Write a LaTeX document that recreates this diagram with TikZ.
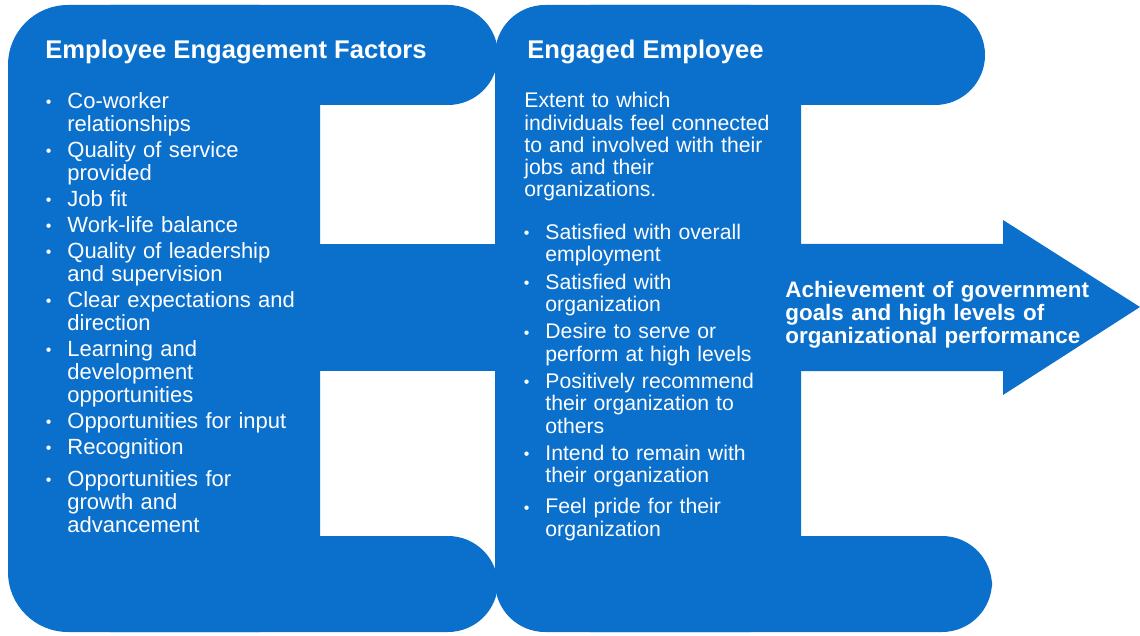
\documentclass[tikz,border=0pt]{standalone}
\usepackage{fontspec}
\setmainfont{Liberation Sans}
\usepackage{enumitem}
\usepackage{tikz}
\definecolor{engblue}{RGB}{11,111,204}
\setlist[itemize]{leftmargin=11pt, labelsep=8pt, topsep=0pt, partopsep=0pt, parsep=0pt, itemsep=1.5pt,
label={\raisebox{0.4pt}{\footnotesize\textbullet}}}
\setlength{\lineskiplimit}{-6pt}
\tikzstyle{blob} = [fill=engblue, rounded corners=25pt]
\tikzstyle{heading} = [text=white, inner sep=0pt, anchor=base west,
font=\fontsize{12.8pt}{15pt}\selectfont\bfseries]
\tikzstyle{bullets} = [text=white, inner sep=0pt, anchor=north west,
text width=170pt, align=left, font=\fontsize{11pt}{11.5pt}\selectfont]
\tikzstyle{extent} = [bullets, font=\fontsize{10.6pt}{11.15pt}\selectfont]
\tikzstyle{goal} = [bullets, font=\fontsize{11.2pt}{10.25pt}\selectfont\bfseries]
\begin{document}
\begin{tikzpicture}[x=0.5pt, y=-0.5pt]
	\useasboundingbox (0,0) rectangle (1140,636);
	% Place shapes
	\fill [blob, rounded corners=30pt] (8,5) rectangle (320,632);
	\fill [blob] (60,5) rectangle (498,105);
	\fill [blob] (60,536) rectangle (498,632);
	\fill [engblue] (300,244) rectangle (510,371);
	\fill [blob] (495,5) rectangle (801,632);
	\fill [blob] (540,5) rectangle (985,105);
	\fill [blob] (540,536) rectangle (992,632);
	\fill [engblue] (790,244) -- (1003,244) -- (1003,220) -- (1140,307)
		-- (1003,395) -- (1003,371) -- (790,371) -- cycle;
	%
	\node [heading] (factorsTitle) at (45,59) {Employee Engagement Factors};
	\node [heading] (engagedTitle) at (527,59) {Engaged Employee};
	
	\node [bullets] (factorList) at (45,85) {
		\begin{itemize}
		\item Co-worker\\ relationships
		\item Quality of service\\ provided
		\item Job fit
		\item Work-life balance
		\item Quality of leadership\\ and supervision
		\item Clear expectations and\\ direction
		\item Learning and\\ development\\ opportunities
		\item Opportunities for input
		\item Recognition
		\vspace{3pt}
		\item Opportunities for\\ growth and\\ advancement
		\end{itemize}
	};
	
	\node [extent] (engagedText) at (524,92) {
		Extent to which\\ individuals feel connected\\ to and involved with their\\
		jobs and their\\ organizations.
	};
	
	\node [extent] (engagedList) at (523,217) {
		\begin{itemize}[itemsep=2.5pt]
		\item Satisfied with overall\\ employment
		\item Satisfied with\\ organization
		\item Desire to serve or\\ perform at high levels
		\item Positively recommend\\ their organization to\\ others
		\item Intend to remain with\\ their organization
		\vspace{2pt}
		\item Feel pride for their\\ organization
		\end{itemize}
	};
	
	\node [goal] (goalText) at (785,281) {
		Achievement of government\\ goals and high levels of\\
		organizational performance
	};
\end{tikzpicture}
\end{document}
